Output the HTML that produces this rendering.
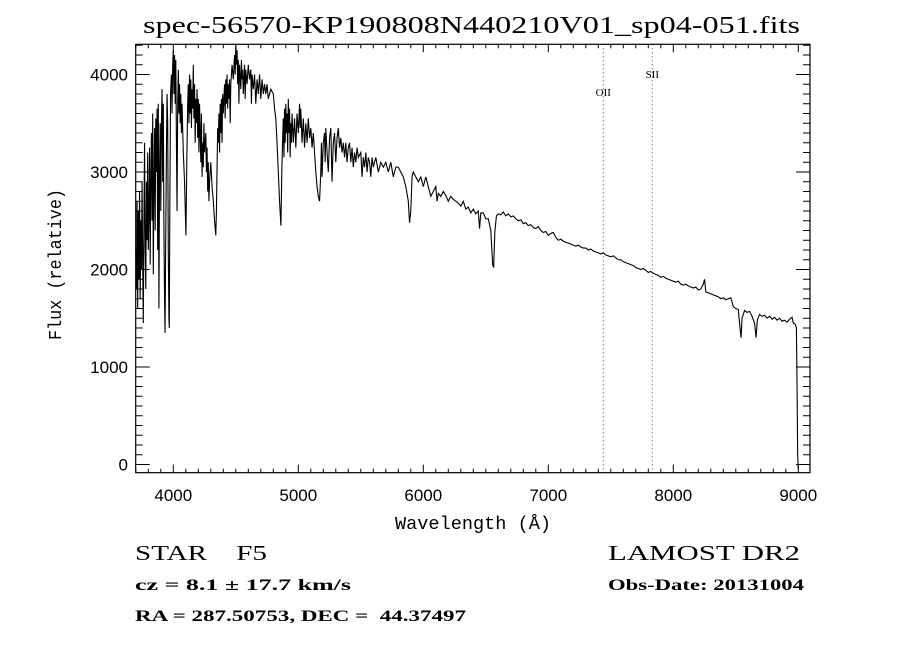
<!DOCTYPE html>
<html><head><meta charset="utf-8"><style>
html,body{margin:0;padding:0;background:#fff;}
svg{display:block;}
text{fill:#000;white-space:pre;}
</style></head><body>
<svg id="chart" width="900" height="650" viewBox="0 0 900 650" xmlns="http://www.w3.org/2000/svg">
<rect width="900" height="650" fill="#fff"/>
<text x="143" y="33" font-family="Liberation Serif, serif" font-size="24" textLength="657" lengthAdjust="spacingAndGlyphs">spec-56570-KP190808N440210V01_sp04-051.fits</text>
<g id="axes"></g>
<g id="lines"></g>
<path id="spec" fill="none" stroke="#000" stroke-width="1.1"/>
<rect x="135.7" y="44.3" width="674.3" height="428.4" fill="none" stroke="#000" stroke-width="1.2"/>
<text x="395" y="529" font-family="Liberation Mono, monospace" font-size="18" textLength="156" lengthAdjust="spacingAndGlyphs">Wavelength (Å)</text>
<text transform="translate(61,340) rotate(-90)" font-family="Liberation Mono, monospace" font-size="18" textLength="151" lengthAdjust="spacingAndGlyphs">Flux (relative)</text>
<text xml:space="preserve" x="135" y="560" font-family="Liberation Serif, serif" font-size="21" textLength="132" lengthAdjust="spacingAndGlyphs">STAR    F5</text>
<text x="135" y="590" font-family="Liberation Serif, serif" font-weight="bold" font-size="16" textLength="216" lengthAdjust="spacingAndGlyphs">cz = 8.1 ± 17.7 km/s</text>
<text xml:space="preserve" x="135" y="621" font-family="Liberation Serif, serif" font-weight="bold" font-size="16" textLength="331" lengthAdjust="spacingAndGlyphs">RA = 287.50753, DEC =  44.37497</text>
<text x="608" y="560" font-family="Liberation Serif, serif" font-size="21" textLength="192" lengthAdjust="spacingAndGlyphs">LAMOST DR2</text>
<text x="608" y="590" font-family="Liberation Serif, serif" font-weight="bold" font-size="16" textLength="196" lengthAdjust="spacingAndGlyphs">Obs-Date: 20131004</text>
</svg>
<script>
const xTicks = [4000,5000,6000,7000,8000,9000];
const yTicks = [0,1000,2000,3000,4000];
const lineNames = ["OII","SII"];
const lineWaves = [7440,7832];
const wave = [3700,3705,3710,3715,3720,3725,3730,3735,3740,3745,3750,3755,3760,3765,3770,3775,3780,3785,3790,3795,3800,3805,3810,3815,3820,3825,3830,3835,3840,3845,3850,3855,3860,3865,3870,3875,3880,3885,3890,3895,3900,3905,3910,3915,3920,3925,3930,3934,3938,3945,3950,3955,3960,3965,3968,3972,3978,3985,3990,3995,4000,4005,4010,4015,4020,4025,4030,4035,4040,4045,4050,4055,4060,4065,4070,4080,4090,4101,4108,4115,4120,4125,4130,4135,4140,4145,4150,4155,4160,4165,4170,4175,4180,4185,4190,4195,4200,4205,4210,4215,4220,4225,4230,4235,4240,4245,4250,4260,4265,4270,4275,4280,4285,4290,4300,4310,4320,4330,4340,4345,4350,4355,4360,4365,4370,4375,4380,4385,4390,4395,4400,4410,4415,4420,4425,4430,4435,4440,4445,4450,4455,4460,4470,4480,4490,4495,4500,4505,4510,4515,4520,4525,4530,4540,4545,4550,4555,4560,4570,4575,4580,4590,4600,4610,4620,4625,4630,4640,4650,4660,4670,4680,4690,4700,4710,4720,4730,4740,4750,4760,4780,4800,4810,4820,4830,4840,4850,4861,4868,4875,4880,4885,4890,4895,4900,4905,4910,4915,4920,4925,4930,4935,4940,4945,4950,4960,4970,4980,4990,5000,5010,5015,5020,5030,5040,5050,5060,5070,5080,5090,5100,5110,5120,5130,5140,5150,5160,5170,5180,5185,5190,5200,5210,5215,5220,5230,5240,5250,5260,5270,5280,5290,5300,5310,5320,5330,5340,5350,5360,5370,5380,5390,5400,5410,5420,5430,5440,5450,5460,5470,5480,5500,5510,5520,5530,5540,5550,5560,5570,5580,5590,5600,5620,5640,5660,5680,5700,5720,5740,5760,5780,5800,5820,5840,5860,5880,5890,5900,5910,5920,5940,5960,5980,6000,6020,6040,6060,6080,6100,6110,6120,6140,6160,6180,6200,6220,6240,6260,6280,6300,6320,6340,6360,6380,6400,6420,6440,6450,6460,6480,6500,6520,6540,6555,6563,6572,6585,6600,6620,6640,6660,6680,6700,6720,6740,6760,6780,6800,6820,6840,6860,6880,6900,6920,6940,6960,6980,7000,7020,7040,7060,7080,7100,7120,7140,7160,7180,7200,7220,7240,7260,7280,7300,7320,7340,7360,7380,7400,7420,7440,7460,7480,7500,7520,7540,7560,7580,7600,7620,7640,7660,7680,7700,7720,7740,7760,7780,7800,7820,7840,7860,7880,7900,7920,7940,7960,7980,8000,8020,8040,8060,8080,8100,8120,8140,8160,8180,8200,8220,8240,8250,8260,8280,8300,8320,8340,8360,8380,8400,8420,8440,8460,8480,8500,8520,8530,8542,8550,8570,8590,8610,8630,8650,8662,8672,8690,8710,8730,8750,8770,8790,8810,8830,8850,8870,8890,8910,8930,8950,8960,8975,8985,8990,8995,9000];
const flux = [2200,1800,2700,1600,2600,1900,2800,1700,2500,2000,2900,2100,1450,2500,3300,2200,1800,2900,2300,3200,2200,2600,3250,2050,2900,3400,2500,3600,1950,2900,3450,2400,3550,3000,3650,2200,3700,1600,3000,3500,2600,3500,3850,2900,3700,2400,1700,1350,2100,3200,3800,3500,2200,1500,1400,2600,3800,4000,3600,4100,4250,3800,4200,3700,4150,3300,2600,3700,4050,3600,3900,3500,3800,3400,3700,3200,2900,2350,3100,3700,3900,3500,4000,3600,3950,3450,3850,3650,4100,3550,3900,3300,3750,3500,3850,3350,3750,3200,3700,3400,3100,3600,2950,3300,3050,3500,3200,3400,3000,3250,2800,3100,2700,2900,3100,2850,2700,2500,2350,2600,3050,3450,3300,3600,3200,3700,3400,3750,3300,3800,3600,3900,3550,3950,3700,4000,3650,3900,3750,3950,3500,3900,4100,3950,4200,4000,4300,4100,4250,3900,4150,3700,4100,3850,4150,3950,4050,3800,4100,3750,4050,3900,4100,3950,4050,3700,4000,3850,4000,3700,3950,3800,4000,3750,3950,3800,3900,3800,3900,3750,3850,3800,3650,3550,3300,3000,2700,2450,3000,3350,3550,3150,3650,3300,3700,3400,3600,3200,3750,3400,3650,3150,3500,3300,3600,3300,3550,3250,3600,3400,3700,3450,3650,3300,3550,3250,3500,3300,3550,3350,3450,3250,3400,3200,3000,2850,2750,2700,3000,3300,2950,3300,3400,3100,3450,3200,3000,3350,3450,2900,3300,3400,3100,3350,3450,3250,3350,3200,3300,3150,3300,3100,3250,3300,3100,3250,3050,3200,3100,3250,3150,3200,2950,3150,3050,3200,3000,3150,3100,2950,3150,3050,3150,3000,3100,3050,3100,3000,3100,2950,3050,3050,3000,2950,2850,2700,2480,2600,2950,3000,2950,2900,2950,2850,2950,2850,2750,2800,2850,2700,2780,2750,2800,2760,2700,2750,2720,2700,2680,2650,2700,2620,2640,2580,2620,2570,2600,2420,2580,2580,2520,2520,2400,2050,2020,2380,2550,2570,2560,2590,2550,2570,2540,2550,2520,2500,2510,2470,2480,2450,2460,2430,2420,2440,2400,2380,2390,2350,2370,2380,2330,2300,2310,2290,2280,2270,2260,2250,2240,2250,2230,2220,2220,2200,2210,2190,2180,2170,2160,2170,2150,2140,2130,2140,2120,2100,2100,2080,2070,2060,2050,2040,2020,2010,2000,2010,1990,1970,1980,1960,1950,1940,1920,1930,1910,1900,1890,1880,1870,1880,1850,1840,1850,1830,1820,1810,1820,1790,1800,1850,1900,1770,1760,1750,1740,1730,1720,1700,1710,1690,1700,1710,1620,1600,1590,1450,1300,1500,1580,1560,1570,1520,1450,1300,1480,1540,1520,1530,1500,1520,1490,1510,1480,1500,1470,1480,1460,1490,1510,1450,1440,1400,800,100,-50];

const X0=135.7, X1=810, Y0=44.3, Y1=472.7;
const xScale = w => 173.3 + (w-4000)*0.125;
const yScale = v => 464.5 - v*0.0975;
const NS="http://www.w3.org/2000/svg";
const axes=document.getElementById('axes');
function mk(tag,attrs,parent){const e=document.createElementNS(NS,tag);for(const k in attrs)e.setAttribute(k,attrs[k]);parent.appendChild(e);return e;}
for(let w=3700; w<=9090; w+=100){
  const x=xScale(w), major=(w%1000===0), L=major?8:4;
  const t1=mk('line',{x1:x,x2:x,y1:Y1,y2:Y1-L,stroke:'#000','stroke-width':1},axes);
  
  
  const t2=mk('line',{x1:x,x2:x,y1:Y0,y2:Y0+L,stroke:'#000','stroke-width':1},axes);
  
  
}
xTicks.forEach(w=>{
  const t=mk('text',{x:xScale(w),y:501,'text-anchor':'middle','font-family':'Liberation Sans, sans-serif','font-size':17},axes);
  t.textContent=w;
  
  
});
for(let v=0; v<=4300; v+=100){
  const y=yScale(v), major=(v%1000===0), L=major?14:7;
  const t1=mk('line',{x1:X0,x2:X0+L,y1:y,y2:y,stroke:'#000','stroke-width':1},axes);
  
  
  const t2=mk('line',{x1:X1,x2:X1-L,y1:y,y2:y,stroke:'#000','stroke-width':1},axes);
  
  
}
yTicks.forEach(v=>{
  const t=mk('text',{x:128,y:yScale(v)+6,'text-anchor':'end','font-family':'Liberation Sans, sans-serif','font-size':17},axes);
  t.textContent=v;
  
  
});
const lg=document.getElementById('lines');
const labelY=[96,78];
lineNames.forEach((n,i)=>{
  const x=xScale(lineWaves[i]);
  const l=mk('line',{x1:x,x2:x,y1:Y0,y2:Y1,stroke:'#7a3050','stroke-width':1,'stroke-dasharray':'1,3'},lg);
  
  
  const t=mk('text',{x:x,y:labelY[i],'text-anchor':'middle','font-family':'Liberation Serif, serif','font-size':11},lg);
  t.textContent=n;
  
  
});
let d='';
wave.forEach((w,i)=>{
  let y=Math.max(Y0,Math.min(Y1,yScale(flux[i])));
  d+=(i?'L':'M')+xScale(w).toFixed(2)+','+y.toFixed(2);
});
document.getElementById('spec').setAttribute('d',d);
</script>
</body></html>
